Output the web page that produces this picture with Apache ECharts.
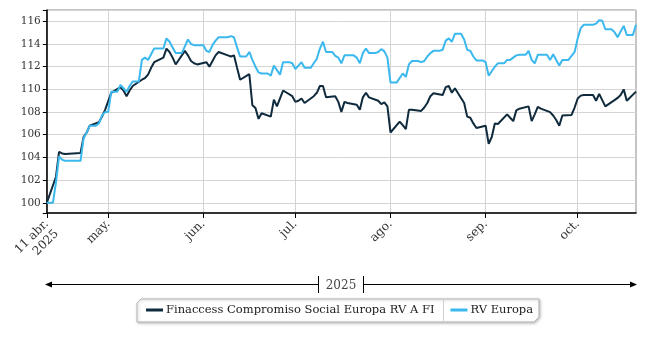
<!DOCTYPE html>
<html>
<head>
<meta charset="utf-8">
<script src="https://cdn.jsdelivr.net/npm/echarts@6/dist/echarts.min.js"></script>
<style>
html,body{margin:0;padding:0;background:#fff;}
#chart{width:650px;height:338px;}
</style>
</head>
<body>
<div id="chart"></div>
<script>
// Calendar days starting at startDate (one entry per day); null = no value that day
const startDate = [2025, 3, 11]; // 11 Apr 2025
const seriesNames = ['Finaccess Compromiso Social Europa RV A FI', 'RV Europa'];

const fund = [
  100, null, null,
  102.3, 104.5, 104.35, 104.3, null, null, null,
  null, 104.4, 105.8, 106.2, 106.8, null, null,
  107.1, 107.6, 108.2, null, 109.7, null, null,
  110.2, 109.9, 109.4, 109.9, 110.3, null, null,
  110.85, 111.0, 111.3, 111.9, 112.4, null, null,
  112.8, 113.6, 113.3, 112.8, 112.2, null, null,
  113.4, 113.0, 112.5, 112.3, 112.2, null, null,
  112.4, 112.0, 112.5, 113.0, 113.3, null, null,
  113.0, 112.9, 113.0, 111.9, 110.85, null, null,
  111.35, 108.6, 108.35, 107.4, 107.9, null, null,
  107.6, 109.1, 108.5, 109.2, 109.9, null, null,
  109.4, 108.9, 109.0, 109.2, 108.8, null, null,
  109.4, 109.7, 110.3, 110.3, 109.3, null, null,
  109.4, 108.9, 108.0, 108.9, 108.8, null, null,
  108.65, 108.2, 109.3, 109.7, 109.3, null, null,
  109.0, 108.7, 108.85, 108.5, 106.2, null, null,
  107.15, 106.85, 106.5, 108.2, 108.2, null, null,
  108.1, 108.4, 108.8, 109.4, 109.65, null, null,
  109.5, 110.2, 110.3, 109.7, 110.1, null, null,
  108.8, 107.6, 107.5, 107.0, 106.6, null, null,
  106.8, 105.2, 105.8, 107.0, 106.95, null, null,
  107.8, 107.5, 107.2, 108.15, 108.3, null, null,
  108.5, 107.2, 107.8, 108.45, 108.3, null, null,
  108.0, 107.7, 107.3, 106.8, 107.7, null, null,
  107.75, 108.4, 109.2, 109.45, 109.5, null, null,
  109.5, 109.0, 109.6, 109.05, 108.5, null, null,
  109.05, 109.25, 109.5, 110.0, 109.0, null, null,
  109.8
];

const bench = [
  100, 100, 100,
  101.8, 104.1, 103.8, 103.7, 103.7, 103.7, 103.7,
  103.7, 103.7, 105.7, 106.2, 106.8, 106.8, 106.8,
  107.0, 107.7, 108.0, 108.0, 109.8, 109.8, 109.8,
  110.4, 110.1, 109.8, 110.3, 110.7, 110.7, 110.7,
  112.6, 112.8, 112.6, 113.1, 113.6, 113.6, 113.6,
  113.6, 114.5, 114.2, 113.7, 113.2, 113.2, 113.2,
  113.8, 114.4, 114.0, 113.9, 113.9, 113.9, 113.9,
  113.4, 113.3, 113.9, 114.3, 114.6, 114.6, 114.6,
  114.6, 114.7, 114.6, 113.7, 112.9, 112.9, 112.9,
  113.3, 112.6, 112.0, 111.5, 111.4, 111.4, 111.4,
  111.2, 112.1, 111.7, 111.3, 112.4, 112.4, 112.4,
  112.3, 111.8, 112.1, 112.4, 111.9, 111.9, 111.9,
  112.3, 112.7, 113.6, 114.2, 113.3, 113.3, 113.3,
  112.95, 112.8, 112.3, 113.0, 113.0, 113.0, 113.0,
  112.8, 112.3, 113.2, 113.6, 113.2, 113.2, 113.2,
  113.3, 113.55, 113.35, 112.8, 110.6, 110.6, 110.6,
  111.0, 111.4, 111.1, 112.2, 112.5, 112.5, 112.5,
  112.4, 112.5, 112.9, 113.2, 113.4, 113.4, 113.4,
  113.5, 114.3, 114.5, 114.2, 114.9, 114.9, 114.9,
  114.4, 113.5, 113.4, 112.9, 112.55, 112.55, 112.55,
  112.4, 111.2, 111.6, 112.0, 112.3, 112.3, 112.3,
  112.6, 112.6, 112.8, 113.0, 113.05, 113.05, 113.05,
  113.4, 112.6, 112.3, 113.05, 113.05, 113.05, 113.05,
  112.6, 113.1, 112.6, 112.1, 112.6, 112.6, 112.6,
  112.95, 113.3, 114.5, 115.4, 115.7, 115.7, 115.7,
  115.7, 115.8, 116.1, 116.05, 115.3, 115.3, 115.3,
  115.05, 114.6, 115.1, 115.6, 114.8, 114.8, 114.8,
  115.7
];

const tickDates = ['2025-04-11', '2025-05-01', '2025-06-01', '2025-07-01', '2025-08-01', '2025-09-01', '2025-10-01'];
const tickLabels = ['11 abr.\n2025', 'may.', 'jun.', 'jul.', 'ago.', 'sep.', 'oct.'];
const endDate = '2025-10-20';
const yearLabel = '2025';

function ts(s) { const p = s.split('-').map(Number); return new Date(p[0], p[1] - 1, p[2]).getTime(); }
const dates = fund.map((_, i) => new Date(startDate[0], startDate[1], startDate[2] + i).getTime());
const tickTs = tickDates.map(ts);

const FONT = 'DejaVu Serif';
const chart = echarts.init(document.getElementById('chart'), null, { renderer: 'canvas' });

chart.setOption({
  animation: false,
  backgroundColor: '#fff',
  grid: { left: 46, right: 14, top: 10, bottom: 125, show: true, borderColor: '#8a8a8a', borderWidth: 1 },
  xAxis: {
    type: 'value',
    min: tickTs[0],
    max: ts(endDate),
    axisLine: { lineStyle: { color: '#000', width: 1.5 } },
    axisTick: { customValues: tickTs, length: 5, lineStyle: { color: '#000' } },
    axisLabel: {
      customValues: tickTs,
      rotate: 45,
      fontFamily: FONT, fontSize: 12, color: '#333', margin: 9, lineHeight: 14,
      formatter: function (v) {
        const i = tickTs.indexOf(v);
        if (i < 0) return '';
        // multi-line labels: first line sits at the tick, following lines below it
        return tickLabels[i].indexOf('\n') >= 0 ? '{pad|\u00a0}\n' + tickLabels[i] : tickLabels[i];
      },
      rich: { pad: { fontSize: 12, lineHeight: 14 } }
    },
    splitLine: { show: true, lineStyle: { color: '#d4d4d4', width: 1 } }
  },
  yAxis: {
    type: 'value',
    min: 99.1, max: 117, splitNumber: 9,
    axisLine: { show: true, lineStyle: { color: '#000', width: 1.5 } },
    axisTick: { show: true, length: 4, lineStyle: { color: '#000' } },
    axisLabel: {
      fontFamily: FONT, fontSize: 10.5, color: '#333', margin: 6,
      formatter: function (v) { const r = Math.round(v); return (Math.abs(v - r) < 1e-6 && r % 2 === 0) ? String(r) : ''; }
    },
    splitLine: { show: true, lineStyle: { color: '#d4d4d4', width: 1 } }
  },
  legend: {
    left: 146, top: 304, padding: 0,
    icon: 'rect', itemWidth: 17, itemHeight: 3, itemGap: 16,
    textStyle: { fontFamily: FONT, fontSize: 11.5, color: '#222', padding: [0, 0, 0, -2] },
    data: seriesNames
  },
  graphic: [
    { type: 'polygon', z: 1, shape: { points: [[137, 303], [141, 299], [539, 299], [539, 317], [534, 322], [137, 322]] },
      style: { fill: '#fff', stroke: '#b5b5b5', lineWidth: 1, shadowBlur: 3, shadowColor: 'rgba(0,0,0,0.25)', shadowOffsetX: 1, shadowOffsetY: 1 } },
    { type: 'line', z: 2, shape: { x1: 443.5, y1: 300, x2: 443.5, y2: 321 }, style: { stroke: '#d0d0d0', lineWidth: 1 } },
    { type: 'line', z: 2, shape: { x1: 48, y1: 284.5, x2: 318.5, y2: 284.5 }, style: { stroke: '#000', lineWidth: 1 } },
    { type: 'line', z: 2, shape: { x1: 363.5, y1: 284.5, x2: 634, y2: 284.5 }, style: { stroke: '#000', lineWidth: 1 } },
    { type: 'line', z: 2, shape: { x1: 318.5, y1: 276, x2: 318.5, y2: 293 }, style: { stroke: '#000', lineWidth: 1 } },
    { type: 'line', z: 2, shape: { x1: 363.5, y1: 276, x2: 363.5, y2: 293 }, style: { stroke: '#000', lineWidth: 1 } },
    { type: 'polygon', z: 2, shape: { points: [[45, 284.5], [52, 281.5], [52, 287.5]] }, style: { fill: '#000' } },
    { type: 'polygon', z: 2, shape: { points: [[637, 284.5], [630, 281.5], [630, 287.5]] }, style: { fill: '#000' } },
    { type: 'text', z: 2, x: 341, y: 285.5, style: { text: yearLabel, fontFamily: FONT, fontSize: 12, fill: '#444', align: 'center', verticalAlign: 'middle' } }
  ],
  series: [
    { name: seriesNames[0], type: 'line', showSymbol: false, connectNulls: true,
      data: dates.map((d, i) => [d, fund[i]]),
      lineStyle: { color: '#0f2a3c', width: 2 }, itemStyle: { color: '#0f2a3c' } },
    { name: seriesNames[1], type: 'line', showSymbol: false, connectNulls: true,
      data: dates.map((d, i) => [d, bench[i]]),
      lineStyle: { color: '#3bb8ee', width: 2 }, itemStyle: { color: '#3bb8ee' } }
  ]
});
</script>
</body>
</html>
